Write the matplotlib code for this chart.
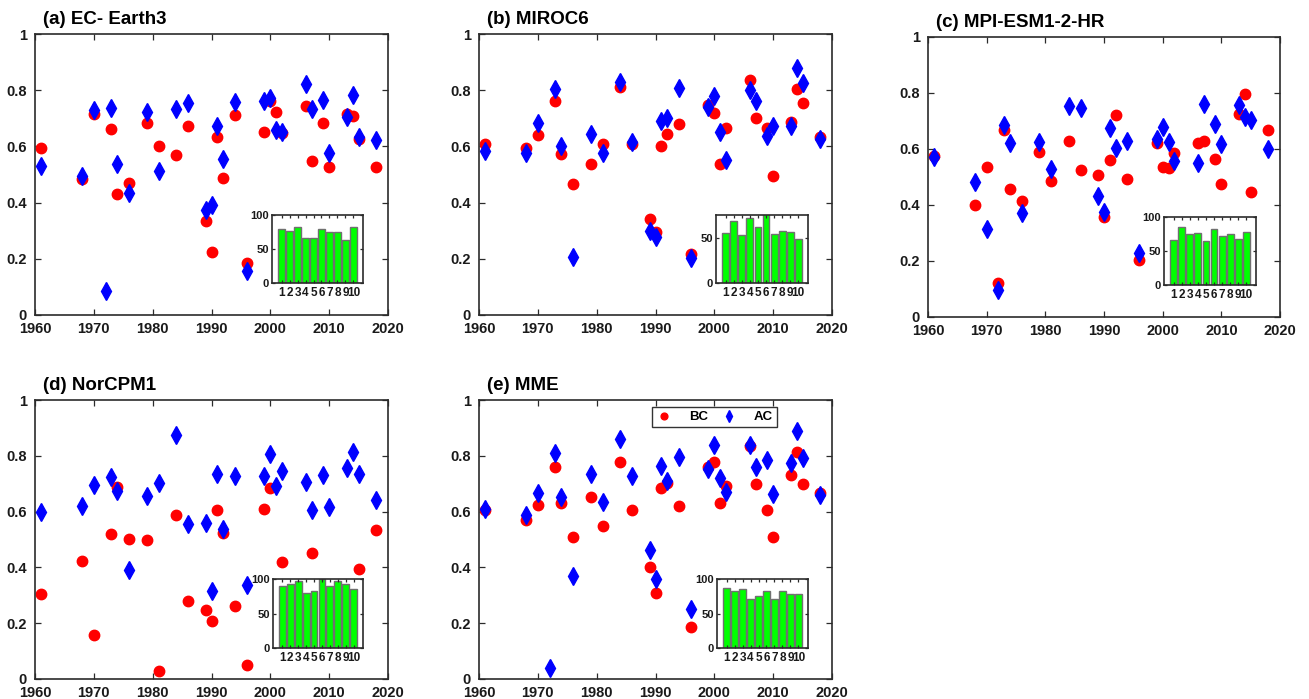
import numpy as np
import matplotlib
matplotlib.use("Agg")
import matplotlib.pyplot as plt
from matplotlib.ticker import FuncFormatter

plt.rcParams["font.family"] = ["Liberation Sans", "DejaVu Sans"]
plt.rcParams["font.weight"] = "bold"

nan = np.nan

years = [1961, 1968, 1970, 1972, 1973, 1974, 1976, 1979, 1981, 1984, 1986, 1989, 1990, 1991, 1992,
         1994, 1996, 1999, 2000, 2001, 2002, 2006, 2007, 2009, 2010, 2013, 2014, 2015, 2018]

bc_a = [0.596, 0.483, 0.714, nan, 0.662, 0.432, 0.470, 0.684, 0.601, 0.569, 0.672, 0.333, 0.223, 0.633, 0.486,
        0.711, 0.184, 0.651, 0.761, 0.721, 0.646, 0.745, 0.548, 0.682, 0.525, 0.715, 0.707, 0.627, 0.525]
ac_a = [0.531, 0.496, 0.730, 0.084, 0.736, 0.537, 0.433, 0.723, 0.514, 0.732, 0.753, 0.373, 0.390, 0.673, 0.556,
        0.758, 0.157, 0.762, 0.774, 0.658, 0.651, 0.823, 0.732, 0.765, 0.577, 0.703, 0.783, 0.633, 0.622]

bc_b = [0.609, 0.594, 0.640, nan, 0.761, 0.572, 0.466, 0.537, 0.609, 0.811, 0.608, 0.342, 0.295, 0.601, 0.645,
        0.678, 0.216, 0.748, 0.719, 0.539, 0.664, 0.836, 0.702, 0.665, 0.495, 0.686, 0.805, 0.755, 0.633]
ac_b = [0.584, 0.576, 0.682, nan, 0.804, 0.600, 0.207, 0.643, 0.576, 0.829, 0.615, 0.299, 0.278, 0.690, 0.700,
        0.809, 0.204, 0.739, 0.779, 0.652, 0.552, 0.799, 0.762, 0.638, 0.671, 0.673, 0.879, 0.827, 0.626]

bc_c = [0.576, 0.399, 0.536, 0.123, 0.667, 0.457, 0.414, 0.588, 0.486, 0.629, 0.525, 0.507, 0.358, 0.562, 0.723,
        0.493, 0.204, 0.623, 0.535, 0.533, 0.584, 0.622, 0.630, 0.564, 0.475, 0.724, 0.797, 0.446, 0.667]
ac_c = [0.573, 0.481, 0.314, 0.097, 0.685, 0.621, 0.372, 0.625, 0.527, 0.753, 0.746, 0.433, 0.375, 0.675, 0.605,
        0.629, 0.228, 0.634, 0.677, 0.624, 0.557, 0.550, 0.761, 0.690, 0.618, 0.757, 0.715, 0.704, 0.600]

bc_d = [0.303, 0.424, 0.159, nan, 0.521, 0.687, 0.503, 0.499, 0.029, 0.588, 0.281, 0.247, 0.209, 0.607, 0.522,
        0.262, 0.050, 0.609, 0.686, nan, 0.421, nan, 0.453, nan, nan, nan, nan, 0.394, 0.535]
ac_d = [0.597, 0.621, 0.697, nan, 0.725, 0.675, 0.392, 0.656, 0.701, 0.873, 0.556, 0.558, 0.317, 0.736, 0.536,
        0.729, 0.338, 0.729, 0.806, 0.693, 0.744, 0.706, 0.606, 0.731, 0.618, 0.755, 0.814, 0.736, 0.643]

bc_e = [0.607, 0.571, 0.622, nan, 0.761, 0.631, 0.509, 0.652, 0.548, 0.778, 0.607, 0.400, 0.307, 0.686, 0.703,
        0.619, 0.186, 0.759, 0.777, 0.632, 0.693, 0.835, 0.700, 0.607, 0.510, 0.732, 0.815, 0.700, 0.668]
ac_e = [0.611, 0.588, 0.667, 0.039, 0.809, 0.651, 0.369, 0.734, 0.633, 0.861, 0.726, 0.461, 0.358, 0.762, 0.711,
        0.796, 0.250, 0.751, 0.838, 0.719, 0.669, 0.838, 0.760, 0.784, 0.663, 0.775, 0.888, 0.791, 0.661]

# inset bar values (%), lead 1..10
leads = list(range(1, 11))
pct_a = [79.4, 76.5, 82.4, 65.7, 66.7, 78.9, 74.5, 74.5, 63.2, 81.9]
pct_b = [55.5, 68.2, 52.6, 71.9, 61.3, 77.0, 54.0, 57.7, 56.2, 48.5]
pct_c = [65.7, 85.8, 74.5, 76.5, 64.7, 82.4, 71.6, 74.5, 67.2, 77.9]
pct_d = [89.8, 93.2, 97.1, 79.0, 82.9, 100.0, 89.3, 97.1, 93.2, 85.9]
pct_e = [86.3, 82.9, 85.9, 71.7, 75.1, 82.9, 71.7, 82.9, 78.0, 78.0]

titles = ["(a) EC- Earth3", "(b) MIROC6", "(c) MPI-ESM1-2-HR", "(d) NorCPM1", "(e) MME"]
bc_all = [bc_a, bc_b, bc_c, bc_d, bc_e]
ac_all = [ac_a, ac_b, ac_c, ac_d, ac_e]
pct_all = [pct_a, pct_b, pct_c, pct_d, pct_e]

W, H = 1309, 699
fig = plt.figure(figsize=(W / 100, H / 100), dpi=100)


def px_axes(x0, y0, x1, y1):
    # pixel box (top-left origin) -> figure axes
    return fig.add_axes([x0 / W, 1 - y1 / H, (x1 - x0) / W, (y1 - y0) / H])


main_boxes = [(35, 34, 388, 315), (479, 34, 832, 315), (928, 37, 1280, 317),
              (35, 400, 388, 679), (479, 400, 832, 679)]
inset_boxes = [(272, 215, 363, 283), (716, 215, 808, 283), (1164, 217, 1256, 285),
               (273, 579, 363, 648), (717, 579, 808, 648)]

edge = "#2b2b2b"


def style(ax, size, tlen=4, pad=4):
    for s in ax.spines.values():
        s.set_color(edge)
        s.set_linewidth(1.2)
    ax.tick_params(direction="in", top=True, right=True, length=tlen, width=0.9,
                   color=edge, labelsize=size, pad=pad, labelcolor="#1a1a1a")
    for lab in ax.get_xticklabels() + ax.get_yticklabels():
        lab.set_fontweight("bold")


fmt = FuncFormatter(lambda v, p: ("%g" % round(v, 1)))

for i in range(5):
    ax = px_axes(*main_boxes[i])
    ax.plot(years, bc_all[i], "o", color="red", markersize=7.5, linestyle="none", label="BC")
    ax.plot(years, ac_all[i], "d", color="blue", markersize=9, linestyle="none", label="AC")
    ax.set_xlim(1960, 2020)
    ax.set_ylim(0, 1)
    ax.set_xticks(range(1960, 2021, 10))
    ax.set_yticks([0, 0.2, 0.4, 0.6, 0.8, 1])
    ax.yaxis.set_major_formatter(fmt)
    style(ax, 10.5, pad=5)
    ax.tick_params(axis="y", pad=6)
    ax.text(0.022, 1.022, titles[i], transform=ax.transAxes, fontsize=13.5,
            fontweight="bold", va="bottom", ha="left")
    if i == 4:
        leg = ax.legend(loc="upper left", bbox_to_anchor=(0.49, 0.975), ncol=2,
                        frameon=True, fancybox=False, edgecolor="black", fontsize=9.5,
                        markerscale=0.65, handletextpad=1.3, columnspacing=1.0,
                        borderpad=0.3, handlelength=1.2, borderaxespad=0)
        leg.get_frame().set_linewidth(1.0)
        for t in leg.get_texts():
            t.set_fontweight("bold")

    axi = px_axes(*inset_boxes[i])
    axi.set_zorder(5)
    axi.set_facecolor("white")
    axi.bar(leads, pct_all[i], width=0.85, color="#00ff00", edgecolor="#707070", linewidth=1.0)
    axi.set_xlim(-0.2, 11.2)
    axi.set_xticks(leads)
    if i == 1:
        axi.set_ylim(0, 75)
        axi.set_yticks([0, 50])
    else:
        axi.set_ylim(0, 100)
        axi.set_yticks([0, 50, 100])
    style(axi, 8.5, tlen=2, pad=3)
    axi.tick_params(axis="y", pad=2)
    for lab in axi.get_yticklabels():
        lab.set_fontsize(8)

fig.savefig("out.png", dpi=100)
